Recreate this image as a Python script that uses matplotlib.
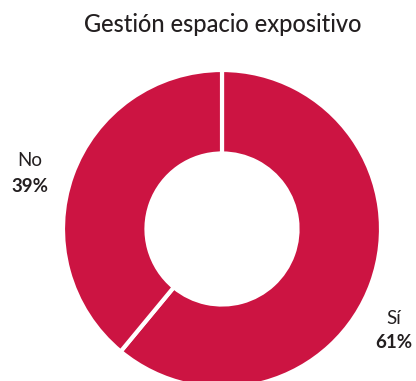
import matplotlib.pyplot as plt

labels = ['Sí', 'No']
values = [61, 39]
colors = ['#CC1442', '#CC1442']
title = 'Gestión espacio expositivo'

W, H = 416, 381
fig = plt.figure(figsize=(W / 100, H / 100), dpi=100)

# donut centre and radius in pixels (from the top-left)
cx, cy, r = 222, 229, 159
ax = fig.add_axes([(cx - r) / W, (H - cy - r) / H, 2 * r / W, 2 * r / H])
ax.pie(values, colors=colors, startangle=90, counterclock=False,
       wedgeprops=dict(width=0.525, edgecolor='white', linewidth=3))
ax.set_xlim(-1, 1)
ax.set_ylim(-1, 1)
ax.set_aspect('equal')
ax.axis('off')

fig.text(223 / W, 1 - 25 / H, title, ha='center', va='center',
         fontsize=17, family='Lato', weight='medium', color='#231F20')

# slice labels
fig.text(30 / W, 1 - 160 / H, labels[1], ha='center', va='center',
         fontsize=13.5, family='Lato', color='#231F20')
fig.text(30 / W, 1 - 186 / H, f'{values[1]}%', ha='center', va='center',
         fontsize=13.5, family='Lato', weight='bold', color='#231F20')
fig.text(394 / W, 1 - 318 / H, labels[0], ha='center', va='center',
         fontsize=13.5, family='Lato', color='#231F20')
fig.text(394 / W, 1 - 343 / H, f'{values[0]}%', ha='center', va='center',
         fontsize=13.5, family='Lato', weight='bold', color='#231F20')

fig.savefig('out.png', dpi=100)
